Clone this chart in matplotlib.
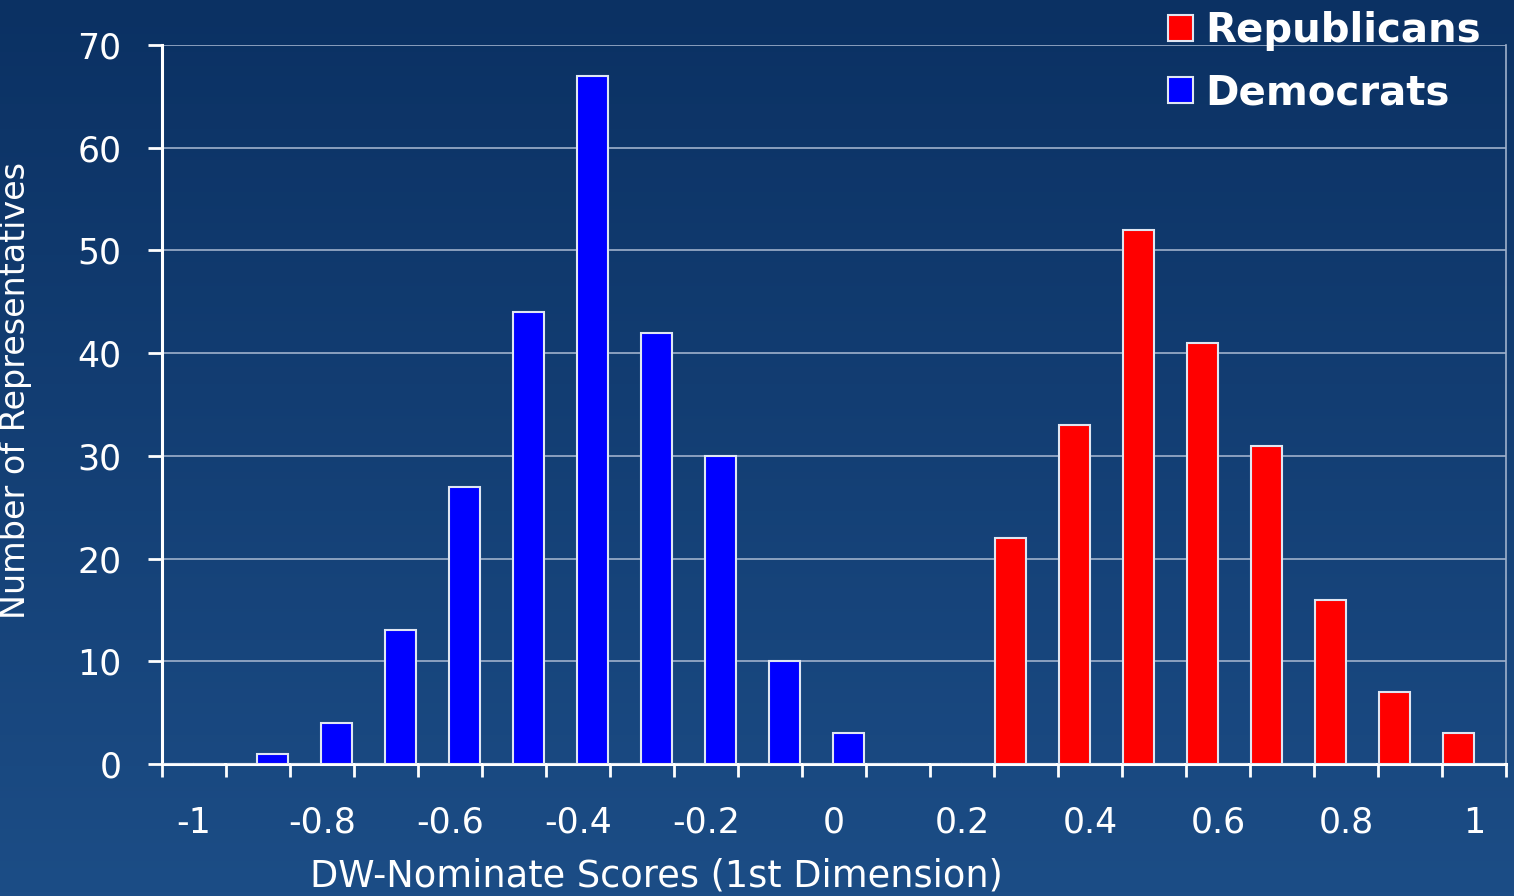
import matplotlib.pyplot as plt
import numpy as np
from matplotlib.patches import Patch
from matplotlib.colors import LinearSegmentedColormap

# DW-Nominate score bins (-1 .. 1 in steps of 0.1)
bins = ['-1', '-0.9', '-0.8', '-0.7', '-0.6', '-0.5', '-0.4', '-0.3', '-0.2', '-0.1', '0',
        '0.1', '0.2', '0.3', '0.4', '0.5', '0.6', '0.7', '0.8', '0.9', '1']
republicans = [0, 0, 0, 0, 0, 0, 0, 0, 0, 0, 0, 0, 0, 22, 33, 52, 41, 31, 16, 7, 3]
democrats = [0, 1, 4, 13, 27, 44, 67, 42, 30, 10, 3, 0, 0, 0, 0, 0, 0, 0, 0, 0, 0]
tick_labels = ['-1', '-0.8', '-0.6', '-0.4', '-0.2', '0', '0.2', '0.4', '0.6', '0.8', '1']

fig = plt.figure(figsize=(15.14, 8.96), dpi=100)

# gradient background
bg = fig.add_axes([0, 0, 1, 1], zorder=-10)
cmap = LinearSegmentedColormap.from_list('bg', ['#0b3163', '#1c4d86'])
bg.imshow(np.linspace(0, 1, 256).reshape(-1, 1), aspect='auto', cmap=cmap,
          extent=[0, 1, 0, 1])
bg.axis('off')

ax = fig.add_axes([162 / 1514, 1 - 764 / 896, 1344 / 1514, 719 / 896])
ax.patch.set_alpha(0)

x = np.arange(len(bins))
w = 0.48
ax.bar(x - 0.24, republicans, w, color='#ff0000', edgecolor='#dfe6f2', linewidth=1.5, zorder=3)
ax.bar(x + 0.23, democrats, w, color='#0000ff', edgecolor='#dfe6f2', linewidth=1.5, zorder=3)

ax.set_xlim(-0.5, len(bins) - 0.5)
ax.set_ylim(0, 70)
ax.set_yticks(range(0, 71, 10))
ax.yaxis.grid(True, color='#9fb1cc', linewidth=1.2, zorder=0)

# tick marks at bin boundaries, labels at every other bin center
ax.set_xticks(np.arange(-0.5, len(bins), 1))
ax.set_xticklabels([])
ax.set_xticks(x[::2], tick_labels, minor=True)
ax.tick_params(axis='x', which='major', length=9, width=2, color='white', direction='out')
ax.tick_params(axis='x', which='minor', length=0, pad=30, labelsize=25, labelcolor='white')
ax.tick_params(axis='y', length=10, width=2, color='white', pad=19, labelsize=25,
               labelcolor='white')

for s in ['left', 'bottom']:
    ax.spines[s].set_color('white')
    ax.spines[s].set_linewidth(2.2)
ax.spines['top'].set_visible(False)
ax.spines['right'].set_color('#9fb1cc')
ax.spines['right'].set_linewidth(1.2)

ax.set_ylabel('Number of Representatives', fontsize=24, color='white')
ax.yaxis.set_label_coords(-0.097, 0.52)
ax.set_xlabel('DW-Nominate Scores (1st Dimension)', fontsize=26.5, color='white')
ax.xaxis.label.set_va('center')
ax.xaxis.set_label_coords(0.3676, -0.156)

handles = [Patch(facecolor='#ff0000', edgecolor='#dfe6f2', linewidth=1.5),
           Patch(facecolor='#0000ff', edgecolor='#dfe6f2', linewidth=1.5)]
leg = fig.legend(handles, ['Republicans', 'Democrats'], loc='upper left',
                 bbox_to_anchor=(1148 / 1514, 1 + 9 / 896), frameon=False, borderpad=0,
                 handlelength=0.62, handleheight=0.62, handletextpad=0.3,
                 labelspacing=0.55, prop={'size': 29, 'weight': 'bold'})
for t in leg.get_texts():
    t.set_color('white')

fig.savefig('out.png', dpi=100)
